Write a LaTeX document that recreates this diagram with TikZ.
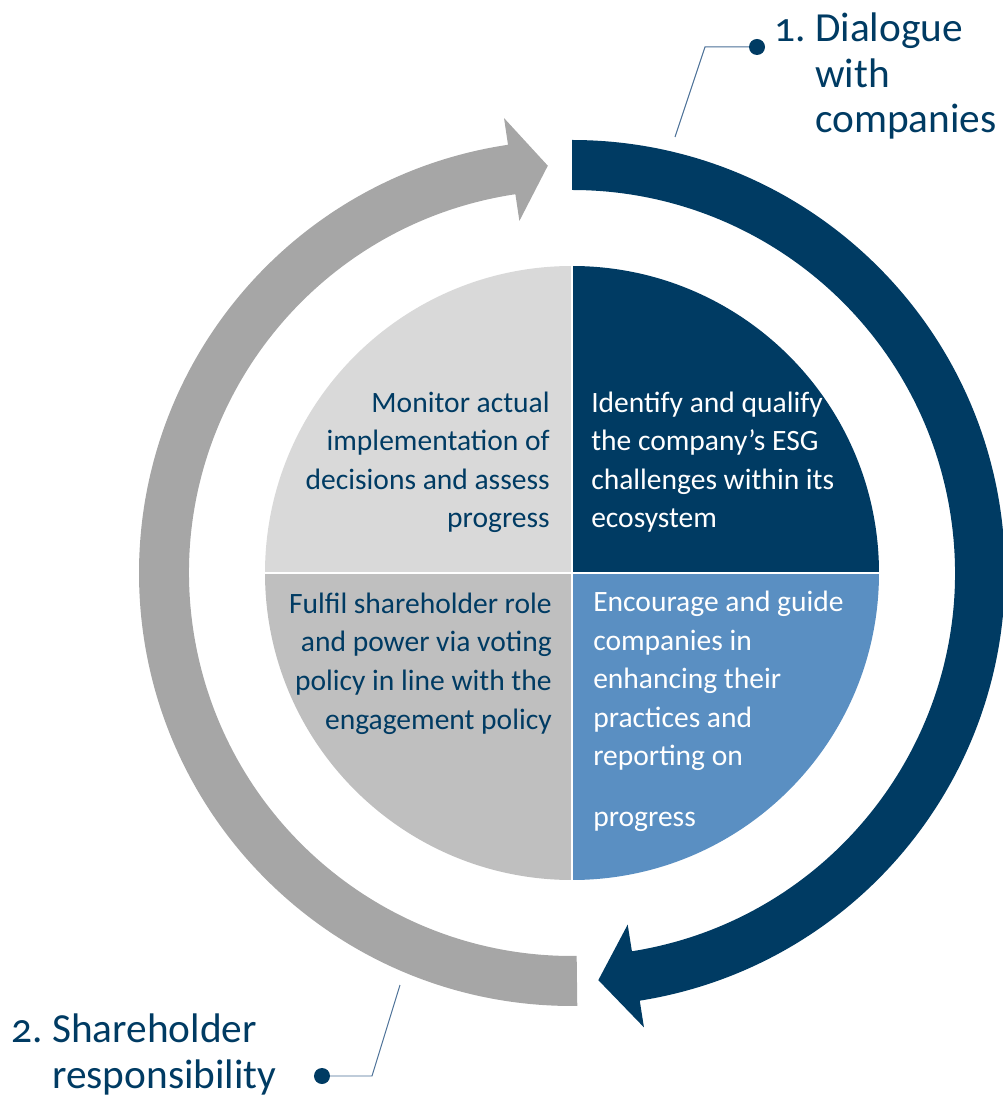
\documentclass[tikz,border=0pt]{standalone}
\usepackage{fontspec}
\setmainfont{Carlito}
\newfontfamily\lblfont{Carlito}[Numbers=OldStyle]
\definecolor{navy}{RGB}{0,59,99}
\definecolor{midblue}{RGB}{90,143,194}
\definecolor{lightgr}{RGB}{217,217,217}
\definecolor{midgr}{RGB}{191,191,191}
\definecolor{ringgr}{RGB}{166,166,166}
\definecolor{leader}{RGB}{74,111,150}
\begin{document}
\begin{tikzpicture}[x=0.025cm, y=0.025cm,
    quad/.style={inner sep=0pt, font=\fontsize{21}{27.4}\selectfont},
    lbl/.style={inner sep=0pt, text=navy, font=\lblfont\fontsize{29.4}{32.4}\selectfont}]
    \useasboundingbox (-572, -523) rectangle (430, 573);
    \coordinate (O) at (0, 0);
    % pie
    \fill[navy] (O) -- (0, 307) arc[start angle=90, end angle=0, radius=307] -- cycle;
    \fill[midblue] (O) -- (307, 0) arc[start angle=0, end angle=-90, radius=307] -- cycle;
    \fill[midgr] (O) -- (0, -307) arc[start angle=-90, end angle=-180, radius=307] -- cycle;
    \fill[lightgr] (O) -- (-307, 0) arc[start angle=180, end angle=90, radius=307] -- cycle;
    \draw[white, line width=2.1pt] (0, 310) -- (0, -310) (-310, 0) -- (310, 0);
    % ring arrows
    \fill[navy] (90:433) arc[start angle=90, end angle=-81, radius=433]
                -- (-81:460) -- (-86.3:408) -- (-81:356) -- (-81:383)
                arc[start angle=-81, end angle=90, radius=383] -- cycle;
    \fill[ringgr] (-89.3:433) arc[start angle=-89.3, end angle=-261.5, radius=433]
                  -- (-261.5:460) -- (-266.6:408) -- (-261.5:356) -- (-261.5:383)
                  arc[start angle=-261.5, end angle=-89.3, radius=383] -- cycle;
    % quadrant texts (base = last line)
    \node[quad, text=navy, align=right, anchor=base east] (monitor) at (-22, 45)
      {Monitor actual\\implementation of\\decisions and assess\\progress};
    \node[quad, text=white, align=left, anchor=base west] (identify) at (19, 45)
      {Identify and qualify\\the company’s ESG\\challenges within its\\ecosystem};
    \node[quad, text=navy, align=right, anchor=base east] (fulfil) at (-20, -156)
      {Fulfil shareholder role\\and power via voting\\policy in line with the\\engagement policy};
    \node[quad, text=white, align=left, anchor=base west] (encourage) at (21, -253)
      {Encourage and guide\\companies in\\enhancing their\\practices and\\reporting on\\[0.54cm]progress};
    % labels
    \coordinate (dotA) at (185, 526);
    \coordinate (dotB) at (-250, -503);
    \draw[leader, line width=0.7pt] (103, 436) -- (133, 526) -- (dotA);
    \draw[leader, line width=0.7pt] (-172, -412) -- (-200, -503) -- (dotB);
    \fill[navy] (dotA) circle[radius=8];
    \fill[navy] (dotB) circle[radius=8];
    \node[lbl, align=left, anchor=base west] (dialogue) at (243, 440) {Dialogue\\with\\companies};
    \node[lbl, anchor=base east] (dialoguenum) at (234, 531) {1.};
    \node[lbl, align=left, anchor=base west] (sharehold) at (-520, -515) {Shareholder\\responsibility};
    \node[lbl, anchor=base east] (shareholdnum) at (-529, -469) {2.};
  \end{tikzpicture}
\end{document}
